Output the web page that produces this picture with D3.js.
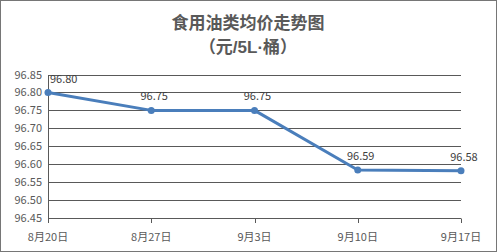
<!DOCTYPE html>
<html>
<head>
<meta charset="utf-8">
<script src="https://cdn.jsdelivr.net/npm/d3@7"></script>
<style>
  body { margin: 0; background: #fff; }
  svg text { font-family: "Microsoft YaHei", "Noto Sans CJK SC", sans-serif; fill: #595959; }
</style>
</head>
<body>
<svg id="chart" width="497" height="252"></svg>
<script>
var dates  = ["8月20日", "8月27日", "9月3日", "9月10日", "9月17日"];
var prices = [96.80, 96.75, 96.75, 96.584, 96.582];
var priceLabels = ["96.80", "96.75", "96.75", "96.59", "96.58"];
var yTicks = [96.45, 96.50, 96.55, 96.60, 96.65, 96.70, 96.75, 96.80, 96.85];
var titleLines = ["食用油类均价走势图", "（元/5L·桶）"];

var width = 497, height = 252;
var svg = d3.select("#chart");

// outer border
svg.append("rect")
    .attr("x", 0.5).attr("y", 0.5)
    .attr("width", width - 1).attr("height", height - 1)
    .style("fill", "#fff")
    .style("stroke", "#767676")
    .style("stroke-width", 1);

var x = d3.scalePoint().domain(dates).range([48, 461]).padding(0);
var y = d3.scaleLinear().domain([96.45, 96.85]).range([218, 74.5]);

// gridlines
svg.selectAll(".grid").data(yTicks).enter().append("line")
    .attr("x1", 48).attr("x2", 461)
    .attr("y1", function(d) { return Math.round(y(d)) + 0.5; })
    .attr("y2", function(d) { return Math.round(y(d)) + 0.5; })
    .style("stroke", "#595959")
    .style("stroke-width", 1);

// y axis line
svg.append("line")
    .attr("x1", 48.5).attr("x2", 48.5)
    .attr("y1", Math.round(y(96.85)) + 0.5).attr("y2", Math.round(y(96.45)) + 0.5)
    .style("stroke", "#595959");

// x ticks
svg.selectAll(".xtick").data(dates).enter().append("line")
    .attr("x1", function(d) { return Math.round(x(d)) + 0.5; })
    .attr("x2", function(d) { return Math.round(x(d)) + 0.5; })
    .attr("y1", Math.round(y(96.45)) + 0.5)
    .attr("y2", Math.round(y(96.45)) + 5)
    .style("stroke", "#595959");

// y labels
svg.selectAll(".ylab").data(yTicks).enter().append("text")
    .attr("x", 42)
    .attr("y", function(d) { return y(d) + 4; })
    .attr("text-anchor", "end")
    .style("font-size", "11px")
    .text(function(d) { return d.toFixed(2); });

// x labels
svg.selectAll(".xlab").data(dates).enter().append("text")
    .attr("x", function(d) { return x(d); })
    .attr("y", 241)
    .attr("text-anchor", "middle")
    .style("font-size", "11px")
    .text(function(d) { return d; });

// line
var line = d3.line()
    .x(function(d, i) { return x(dates[i]); })
    .y(function(d) { return y(d); });

svg.append("path")
    .attr("d", line(prices))
    .style("fill", "none")
    .style("stroke", "#4a7ebb")
    .style("stroke-width", 3)
    .style("stroke-linejoin", "round");

svg.selectAll(".pt").data(prices).enter().append("circle")
    .attr("cx", function(d, i) { return x(dates[i]); })
    .attr("cy", function(d) { return y(d); })
    .attr("r", 3.5)
    .style("fill", "#4a7ebb");

// data labels
svg.selectAll(".dlab").data(prices).enter().append("text")
    .attr("x", function(d, i) { return i === 0 ? x(dates[i]) + 2 : x(dates[i]) + 3; })
    .attr("y", function(d, i) { return i === 0 ? y(d) - 9 : y(d) - 10; })
    .attr("text-anchor", function(d, i) { return i === 0 ? "start" : "middle"; })
    .style("font-size", "11px")
    .style("fill", "#404040")
    .text(function(d, i) { return priceLabels[i]; });

// title
svg.selectAll(".title").data(titleLines).enter().append("text")
    .attr("x", 248)
    .attr("y", function(d, i) { return 29 + i * 24; })
    .attr("text-anchor", "middle")
    .style("font-family", "'Liberation Sans', 'Noto Sans CJK SC', sans-serif")
    .style("font-size", "17px")
    .style("font-weight", "bold")
    .text(function(d) { return d; });
</script>
</body>
</html>
